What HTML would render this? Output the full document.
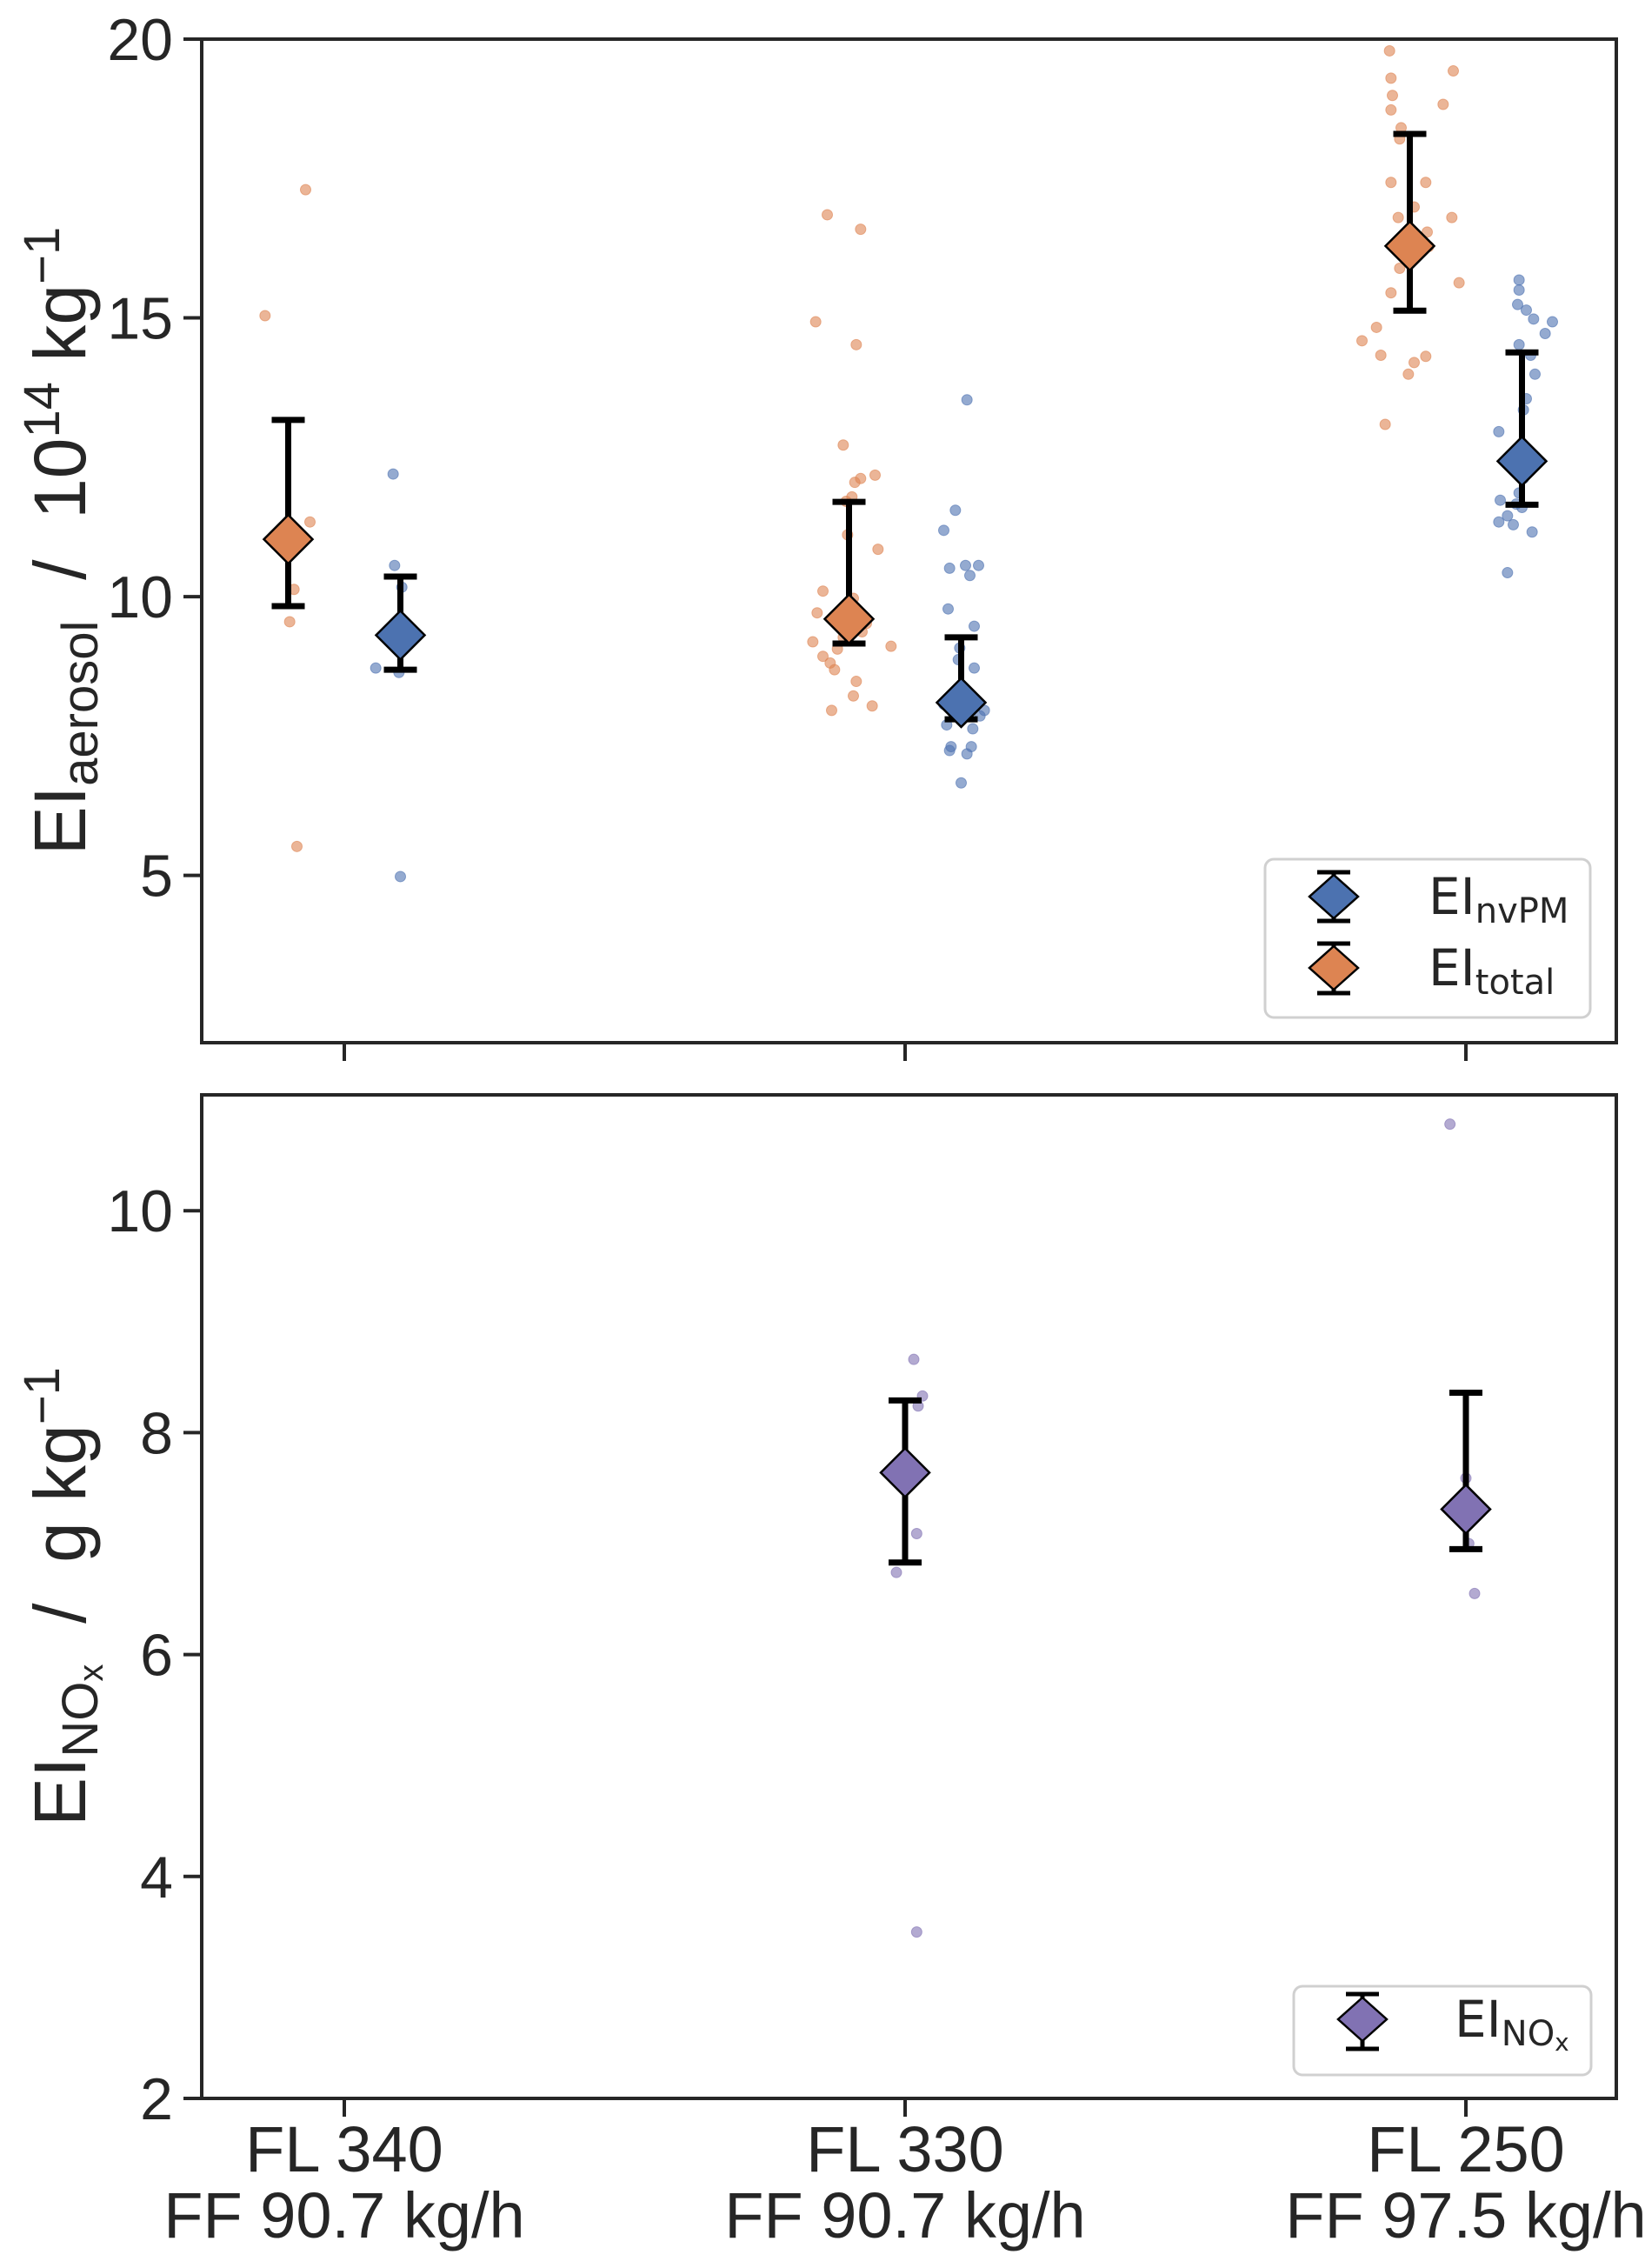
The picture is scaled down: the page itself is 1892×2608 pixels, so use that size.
<!DOCTYPE html>
<html><head><meta charset="utf-8">
<style>
html,body{margin:0;padding:0;background:#fff;}
svg{display:block;font-family:"Liberation Sans",sans-serif;}
</style></head>
<body>
<svg id="chart" width="1892" height="2608" viewBox="0 0 1892 2608" xmlns="http://www.w3.org/2000/svg">
<rect width="1892" height="2608" fill="#fff"/>
<g id="topPanel"></g>
<g id="botPanel"></g>
<text transform="translate(98,622) rotate(-90)" text-anchor="middle" font-family="Liberation Sans, sans-serif" font-size="84" fill="#262626">EI<tspan font-size="58" dy="14">aerosol</tspan><tspan dy="-14">&#160;&#160;/&#160;&#160;10</tspan><tspan font-size="58" dy="-30">14</tspan><tspan dy="30">&#160;kg</tspan><tspan font-size="58" dy="-30">−1</tspan></text>
<text transform="translate(98,1836) rotate(-90)" text-anchor="middle" font-family="Liberation Sans, sans-serif" font-size="84" fill="#262626">EI<tspan font-size="58" dy="14">NO</tspan><tspan font-size="40" dy="6">x</tspan><tspan dy="-20">&#160;&#160;/&#160;&#160;g kg</tspan><tspan font-size="58" dy="-30">−1</tspan></text>
<g>
<rect x="1455" y="988" width="374" height="182" rx="10" fill="#fff" fill-opacity="0.8" stroke="#d0d0d0" stroke-width="3"/>
<path d="M1534,1003V1059M1515,1003H1553M1515,1059H1553" stroke="#000" stroke-width="5"/>
<polygon points="1534,1006 1562,1031 1534,1056 1506,1031" fill="#4c72b0" stroke="#000" stroke-width="2.5"/>
<path d="M1534,1085V1142M1515,1085H1553M1515,1142H1553" stroke="#000" stroke-width="5"/>
<polygon points="1534,1088 1562,1113 1534,1138 1506,1113" fill="#dd8452" stroke="#000" stroke-width="2.5"/>
<text x="1643" y="1051" font-family="DejaVu Sans, sans-serif" font-size="58" fill="#262626">EI<tspan font-size="40" dy="10">nvPM</tspan></text>
<text x="1643" y="1133" font-family="DejaVu Sans, sans-serif" font-size="58" fill="#262626">EI<tspan font-size="40" dy="10">total</tspan></text>
</g>
<g>
<rect x="1488" y="2284" width="342" height="102" rx="10" fill="#fff" fill-opacity="0.8" stroke="#d0d0d0" stroke-width="3"/>
<path d="M1567,2293V2356M1548,2293H1586M1548,2356H1586" stroke="#000" stroke-width="5"/>
<polygon points="1567,2297 1595,2322 1567,2347 1539,2322" fill="#8172b3" stroke="#000" stroke-width="2.5"/>
<text x="1673" y="2342" font-family="DejaVu Sans, sans-serif" font-size="58" fill="#262626">EI<tspan font-size="40" dy="10">NO</tspan><tspan font-size="28" dy="6">x</tspan></text>
</g>
</svg>
<script>
const categories = ["FL 340|FF 90.7 kg/h","FL 330|FF 90.7 kg/h","FL 250|FF 97.5 kg/h"];
const totalMean = [11.03, 9.6, 16.29];
const totalHi = [13.17, 11.7, 18.3];
const totalLo = [9.83, 9.16, 15.13];
const nvpmMean = [9.31, 8.1, 12.43];
const nvpmHi = [10.36, 9.27, 14.38];
const nvpmLo = [8.69, 7.8, 11.65];
const totalPts = [
 [15.04,17.3,11.34,5.52,9.55,10.13],
 [16.85,16.59,14.93,14.52,12.72,12.18,12.12,12.05,11.79,11.71,11.11,10.85,10.10,9.19,8.93,8.81,9.71,9.97,9.79,9.37,9.11,8.69,9.06,8.48,8.22,8.04,7.96,9.27,9.52],
 [19.79,19.30,18.99,18.73,18.41,18.21,18.83,19.43,17.43,17.43,16.80,16.99,16.28,15.89,16.80,15.63,15.45,14.83,14.59,14.33,14.31,14.20,13.99,13.09,16.54,16.15]
];
const totalJit = [
 [-16,12,15,6,1,4],
 [-15,8,-23,5,-4,18,8,4,2,-2,-1,20,-18,-25,-18,-13,-22,3,5,9,29,-10,-8,5,3,16,-12,-4,12],
 [-14,-13,-12,-13,-6,-7,23,30,-13,11,-8,3,13,-7,29,34,-13,-23,-33,-20,11,3,-1,-17,12,-5]
];
const nvpmPts = [
 [12.2,10.56,10.17,8.72,8.64,4.98],
 [13.53,11.55,11.19,10.51,10.56,10.56,10.38,9.78,9.47,9.08,8.87,8.72,8.07,7.96,7.70,7.31,7.31,7.24,7.18,6.66,7.63,7.86,8.22],
 [15.68,15.50,15.24,15.14,14.98,14.93,14.72,14.52,14.33,13.99,13.55,13.35,12.96,12.44,11.73,11.34,11.29,11.6,11.45,11.86,11.16,12.12,10.43,11.66]
];
const nvpmJit = [
 [-5,-4,1,-17,-1,0],
 [4,-4,-12,-8,3,12,6,-9,9,-1,-2,9,-12,16,-10,-7,7,-8,4,0,8,13,2],
 [-2,-2,-3,3,8,21,16,-2,6,9,3,1,-16,-8,-15,-16,-6,0,-10,-2,7,1,-10,-4]
];
const noxMean = [null, 7.64, 7.31];
const noxHi = [null, 8.29, 8.36];
const noxLo = [null, 6.83, 6.95];
const noxPts = [[], [8.66,8.33,8.24,7.09,6.74,3.50], [10.78,6.55,7.0,7.59]];
const noxJit = [[], [6,12,9,8,-6,8], [-11,6,2,0]];
const topTicks = [5,10,15,20];
const botTicks = [2,4,6,8,10];

(function(){
const NS="http://www.w3.org/2000/svg";
const L=232,R=1859;
function xc(i,off){return 396+645*(i+off);}
const jscale=1.6665/645;
function yTop(v){return 45+(20-v)*(1154/18);}
function yBot(v){return 2413-(v-2)*127.6;}
function mk(parent,tag,attrs){const e=document.createElementNS(NS,tag);for(const k in attrs)e.setAttribute(k,attrs[k]);parent.appendChild(e);return e;}
const COL={blue:"#4c72b0",orange:"#dd8452",purple:"#8172b3"};

function diamond(g,cx,cy,fill,name){
  const d=mk(g,"polygon",{points:`${cx},${cy-28} ${cx+28},${cy} ${cx},${cy+28} ${cx-28},${cy}`,fill:fill,stroke:"#000","stroke-width":2.5});
  
  
}
function errbar(g,cx,yh,yl,name){
  const e=mk(g,"path",{d:`M${cx},${yh}V${yl}M${cx-19},${yh}H${cx+19}M${cx-19},${yl}H${cx+19}`,stroke:"#000","stroke-width":7,fill:"none"});
  
  
}
function dot(g,cx,cy,fill,name){
  const c=mk(g,"circle",{cx:cx,cy:cy,r:6,fill:fill,"fill-opacity":0.6,stroke:fill,"stroke-opacity":0.6,"stroke-width":1});
  
  
}
function frame(g,t0,b0,ticks,yf,name){
  for(const t of ticks){
    const y=yf(t);
    const tl=mk(g,"line",{x1:211,x2:L,y1:y,y2:y,stroke:"#262626","stroke-width":4});
    
    
    const tx=mk(g,"text",{x:199,y:y+24,"text-anchor":"end","font-size":68,fill:"#262626"});
    tx.textContent=t;
    
    
  }
  for(let i=0;i<categories.length;i++){
    const x=xc(i,0);
    const tl=mk(g,"line",{x1:x,x2:x,y1:b0,y2:b0+21,stroke:"#262626","stroke-width":4});
    
    
  }
  const r=mk(g,"rect",{x:L,y:t0,width:R-L,height:b0-t0,fill:"none",stroke:"#262626","stroke-width":4});
  
  
}

const gt=document.getElementById('topPanel');
frame(gt,45,1199,topTicks,yTop,'top');
for(let i=0;i<3;i++){
  totalPts[i].forEach((v,k)=>dot(gt,xc(i,-0.1+totalJit[i][k]*jscale),yTop(v),COL.orange,'total-point'));
  nvpmPts[i].forEach((v,k)=>dot(gt,xc(i,0.1+nvpmJit[i][k]*jscale),yTop(v),COL.blue,'nvpm-point'));
}
for(let i=0;i<3;i++){
  errbar(gt,xc(i,-0.1),yTop(totalHi[i]),yTop(totalLo[i]),'total-errorbar');
  diamond(gt,xc(i,-0.1),yTop(totalMean[i]),COL.orange,'total-mean-marker');
  errbar(gt,xc(i,0.1),yTop(nvpmHi[i]),yTop(nvpmLo[i]),'nvpm-errorbar');
  diamond(gt,xc(i,0.1),yTop(nvpmMean[i]),COL.blue,'nvpm-mean-marker');
}

const gb=document.getElementById('botPanel');
frame(gb,1259,2413,botTicks,yBot,'bottom');
for(let i=0;i<3;i++){
  noxPts[i].forEach((v,k)=>dot(gb,xc(i,noxJit[i][k]*jscale),yBot(v),COL.purple,'nox-point'));
}
for(let i=0;i<3;i++){
  if(noxMean[i]==null)continue;
  errbar(gb,xc(i,0),yBot(noxHi[i]),yBot(noxLo[i]),'nox-errorbar');
  diamond(gb,xc(i,0),yBot(noxMean[i]),COL.purple,'nox-mean-marker');
}
categories.forEach((c,i)=>{
  const parts=c.split('|');
  const t1=mk(gb,"text",{x:xc(i,0),y:2497,"text-anchor":"middle","font-size":74,fill:"#262626"});
  t1.textContent=parts[0];
  
  
  const t2=mk(gb,"text",{x:xc(i,0),y:2573,"text-anchor":"middle","font-size":74,fill:"#262626"});
  t2.textContent=parts[1];
  
  
});
})();
</script>
</body></html>
